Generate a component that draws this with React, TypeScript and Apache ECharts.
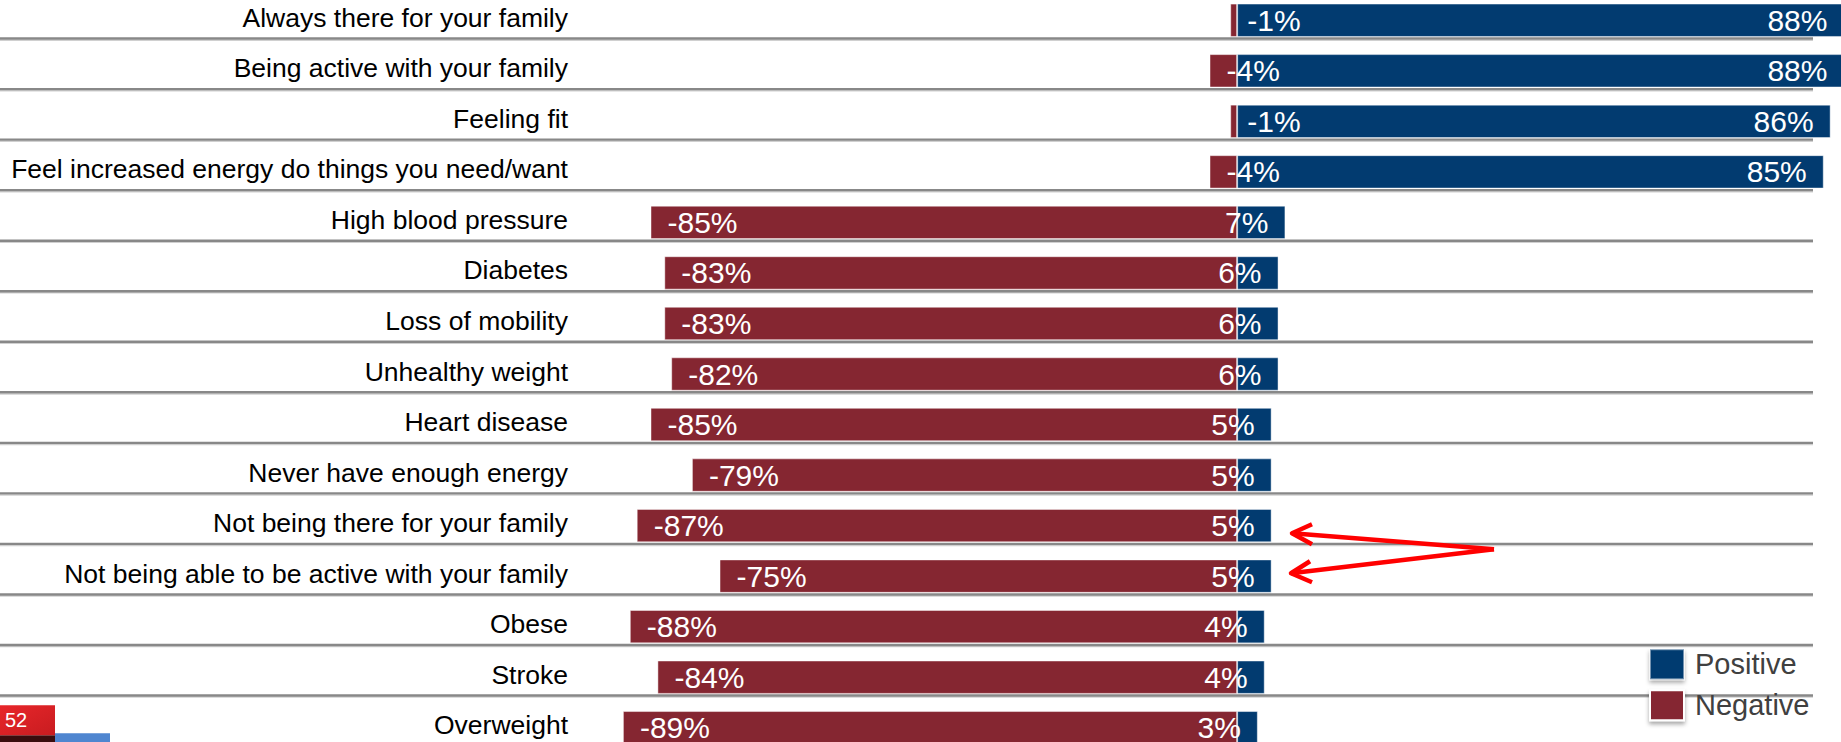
import React, { useEffect, useRef } from "react";
import * as echarts from "echarts";

const categories = [
  "Always there for your family",
  "Being active with your family",
  "Feeling fit",
  "Feel increased energy do things you need/want",
  "High blood pressure",
  "Diabetes",
  "Loss of mobility",
  "Unhealthy weight",
  "Heart disease",
  "Never have enough energy",
  "Not being there for your family",
  "Not being able to be active with your family",
  "Obese",
  "Stroke",
  "Overweight",
];

const positiveValues = [88, 88, 86, 85, 7, 6, 6, 6, 5, 5, 5, 5, 4, 4, 3];
const negativeValues = [-1, -4, -1, -4, -85, -83, -83, -82, -85, -79, -87, -75, -88, -84, -89];

const seriesNames = ["Positive", "Negative"];
const pageNumber = "52";

const BLUE = "#023b70";
const RED = "#852631";
const FONT = "'Liberation Sans', Arial, sans-serif";
// the chart canvas starts OFF px above the page top
const OFF = 5.25;

export default function App() {
  const ref = useRef<HTMLDivElement>(null);

  useEffect(() => {
    document.body.style.margin = "0";
    const chart = echarts.init(ref.current!, null, { renderer: "svg" });
    const labelStyle = {
      show: true,
      color: "#ffffff",
      fontSize: 30,
      fontFamily: FONT,
      formatter: "{c}%",
    };
    chart.setOption({
      animation: false,
      backgroundColor: "#ffffff",
      textStyle: { fontFamily: FONT },
      grid: { left: 616, right: 0, top: 0, bottom: 0, containLabel: false },
      xAxis: { type: "value", min: -90, max: 87.5, show: false },
      yAxis: {
        type: "category",
        data: categories,
        inverse: true,
        axisLine: { show: false },
        axisTick: { show: false },
        splitLine: { show: false },
        axisLabel: {
          margin: 48,
          fontSize: 26.5,
          color: "#000000",
          fontFamily: FONT,
          formatter: "{t|{value}}",
          rich: {
            t: {
              fontSize: 26.5,
              color: "#000000",
              fontFamily: FONT,
              padding: [0, 0, 5, 0],
            },
          },
        },
      },
      legend: {
        data: [
          {
            name: seriesNames[0],
            itemStyle: {
              color: BLUE,
              shadowColor: "rgba(0,0,0,0.35)",
              shadowBlur: 4,
              shadowOffsetY: 3,
            },
          },
          {
            name: seriesNames[1],
            itemStyle: {
              color: RED,
              borderColor: "#ffffff",
              borderWidth: 2,
              shadowColor: "rgba(0,0,0,0.35)",
              shadowBlur: 4,
              shadowOffsetY: 3,
            },
          },
        ],
        orient: "vertical",
        left: 1649,
        top: 648 + OFF,
        padding: 0,
        itemWidth: 34,
        itemHeight: 30,
        itemGap: 9,
        icon: "rect",
        selectedMode: false,
        textStyle: {
          fontSize: 29,
          lineHeight: 30,
          color: "#404040",
          fontFamily: FONT,
          padding: [0, 0, 0, 6],
        },
      },
      series: [
        {
          name: "gridlines",
          type: "custom",
          z: 1,
          silent: true,
          encode: { x: 0, y: 1 },
          data: categories.map((c) => [0, c]),
          renderItem: (params: any, api: any) => {
            const pt = api.coord([0, api.value(1)]);
            const y = pt[1] + 18.3;
            return {
              type: "group",
              children: [
                {
                  type: "line",
                  shape: { x1: 0, y1: y + 1.6, x2: 1813, y2: y + 1.6 },
                  style: { stroke: "#d0d0d0", lineWidth: 1.5 },
                },
                {
                  type: "line",
                  shape: { x1: 0, y1: y, x2: 1813, y2: y },
                  style: { stroke: "#888888", lineWidth: 2.4 },
                },
              ],
            };
          },
        },
        {
          name: seriesNames[1],
          type: "bar",
          stack: "total",
          barWidth: 33.4,
          clip: false,
          data: negativeValues,
          itemStyle: { color: RED, borderColor: "rgba(255,255,255,0.45)", borderWidth: 1 },
          label: { ...labelStyle, position: "insideLeft", distance: 17 },
          z: 2,
        },
        {
          name: seriesNames[0],
          type: "bar",
          stack: "total",
          barWidth: 33.4,
          clip: false,
          data: positiveValues,
          itemStyle: { color: BLUE, borderColor: "rgba(255,255,255,0.45)", borderWidth: 1 },
          label: { ...labelStyle, position: "insideRight", distance: 17 },
          z: 2,
        },
      ],
      graphic: [
        {
          type: "polyline",
          shape: { points: [[1494, 549 + OFF], [1292, 533 + OFF]] },
          style: { stroke: "#ff0000", lineWidth: 4.5, fill: null },
          z: 10,
        },
        {
          type: "polyline",
          shape: { points: [[1312, 524 + OFF], [1292, 533 + OFF], [1312, 544 + OFF]] },
          style: { stroke: "#ff0000", lineWidth: 4.5, fill: null, lineJoin: "round" },
          z: 10,
        },
        {
          type: "polyline",
          shape: { points: [[1494, 549 + OFF], [1291, 573 + OFF]] },
          style: { stroke: "#ff0000", lineWidth: 4.5, fill: null },
          z: 10,
        },
        {
          type: "polyline",
          shape: { points: [[1310, 561 + OFF], [1291, 573 + OFF], [1312, 582 + OFF]] },
          style: { stroke: "#ff0000", lineWidth: 4.5, fill: null, lineJoin: "round" },
          z: 10,
        },
        {
          type: "rect",
          shape: { x: 0, y: 735 + OFF, width: 55, height: 12 },
          style: { fill: "#3a0d0e" },
          z: 10,
        },
        {
          type: "rect",
          shape: { x: 55, y: 733 + OFF, width: 55, height: 14 },
          style: { fill: "#4f86d0" },
          z: 10,
        },
        {
          type: "rect",
          shape: { x: 0, y: 705 + OFF, width: 55, height: 30 },
          style: {
            fill: new echarts.graphic.LinearGradient(0, 0, 1, 1, [
              { offset: 0, color: "#e8262a" },
              { offset: 1, color: "#c81c20" },
            ]),
          },
          z: 10,
        },
        {
          type: "text",
          x: 5,
          y: 720 + OFF,
          style: {
            text: pageNumber,
            fill: "#ffffff",
            fontSize: 20,
            fontFamily: FONT,
            verticalAlign: "middle",
            align: "left",
          },
          z: 11,
        },
      ],
    });
    return () => chart.dispose();
  }, []);

  return (
    <div style={{ position: "relative", width: 1841, height: 742, overflow: "hidden" }}>
      <div
        ref={ref}
        style={{ position: "absolute", left: 0, top: -OFF, width: 1841, height: 742 + 15.5 }}
      />
    </div>
  );
}
